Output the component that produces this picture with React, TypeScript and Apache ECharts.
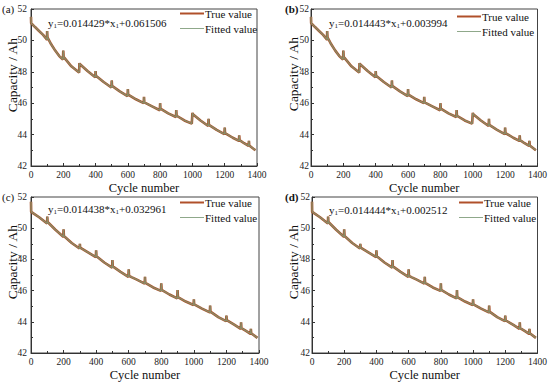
import React, { useEffect, useRef } from "react";
import * as echarts from "echarts";

// Panels (a),(b): cycle numbers and capacities
const cyclesAB = [0, 1, 25, 50, 75, 99, 100, 102, 125, 150, 175, 198, 200, 202, 250, 298, 300, 302, 350, 398, 400, 402, 450, 498, 500, 502, 550, 598, 600, 602, 650, 698, 700, 702, 750, 798, 800, 802, 850, 898, 900, 902, 950, 996, 1000, 1003, 1050, 1098, 1100, 1102, 1150, 1198, 1200, 1202, 1250, 1288, 1290, 1292, 1320, 1348, 1350, 1352, 1390];
const capAB = [51.5, 51.1, 50.85, 50.6, 50.35, 50.05, 50.6, 50.2, 49.75, 49.35, 49.0, 48.78, 49.35, 48.95, 48.35, 47.95, 48.55, 48.5, 48.05, 47.65, 48.05, 47.75, 47.35, 47.0, 47.45, 47.1, 46.75, 46.45, 46.9, 46.55, 46.25, 46.0, 46.4, 46.05, 45.8, 45.55, 46.0, 45.65, 45.35, 45.12, 45.57, 45.2, 44.9, 44.7, 45.38, 45.3, 44.9, 44.55, 45.0, 44.62, 44.3, 44.03, 44.45, 44.1, 43.8, 43.6, 43.95, 43.65, 43.45, 43.28, 43.6, 43.3, 43.0];

// Panels (c),(d)
const cyclesCD = [0, 1, 50, 99, 100, 102, 150, 198, 200, 202, 250, 298, 300, 302, 350, 398, 400, 402, 450, 498, 500, 502, 550, 598, 600, 602, 620, 650, 698, 700, 702, 750, 798, 800, 802, 850, 898, 900, 902, 950, 998, 1000, 1002, 1050, 1098, 1100, 1102, 1150, 1198, 1200, 1202, 1250, 1288, 1290, 1292, 1320, 1348, 1350, 1352, 1390];
const capCD = [51.7, 51.05, 50.7, 50.3, 50.75, 50.4, 49.9, 49.45, 49.93, 49.5, 49.05, 48.7, 49.0, 48.75, 48.45, 48.15, 48.58, 48.2, 47.8, 47.47, 47.96, 47.55, 47.2, 46.88, 47.37, 46.95, 46.85, 46.7, 46.45, 46.88, 46.5, 46.2, 45.98, 46.47, 46.05, 45.75, 45.5, 46.03, 45.58, 45.3, 45.08, 45.44, 45.12, 44.85, 44.6, 45.04, 44.65, 44.3, 44.04, 44.4, 44.1, 43.8, 43.55, 43.97, 43.6, 43.42, 43.23, 43.55, 43.27, 42.97];

const panelLabels = ["(a)", "(b)", "(c)", "(d)"];
const equations = [
  ["0.014429", "0.061506"],
  ["0.014443", "0.003994"],
  ["0.014438", "0.032961"],
  ["0.014444", "0.002512"],
];
const seriesNames = ["True value", "Fitted value"];
const xTitle = "Cycle number";
const yTitle = "Capacity / Ah";

const FONT = "'Liberation Serif', 'Times New Roman', serif";
const TRUE_COLOR = "#a8552e";
const FIT_COLOR = "#8a8c68";

export default function App() {
  const ref = useRef<HTMLDivElement>(null);
  useEffect(() => {
    if (!ref.current) return;
    const chart = echarts.init(ref.current, undefined, { renderer: "svg" });
    const grids = [
      { left: 31, top: 9, width: 226, height: 157 },
      { left: 311, top: 9, width: 227, height: 157 },
      { left: 31, top: 197, width: 228, height: 156 },
      { left: 312, top: 197, width: 226, height: 156 },
    ];
    const yLabelMargin = [4, 2, 4, 2];
    const pairs = (xs: number[], ys: number[]) => xs.map((x, i) => [x, ys[i]]);
    const dataAB = pairs(cyclesAB, capAB);
    const dataCD = pairs(cyclesCD, capCD);
    const datasets = [dataAB, dataAB, dataCD, dataCD];
    const axisCommon = {
      axisLine: { lineStyle: { color: "#333", width: 1 } },
      axisTick: { inside: true, length: 3, lineStyle: { color: "#333" } },
      minorTick: { show: true, splitNumber: 2, length: 2, lineStyle: { color: "#333" } },
      splitLine: { show: false },
    };
    const legendPos = [
      { left: 180, top: 8 },
      { left: 457, top: 11 },
      { left: 180, top: 197 },
      { left: 459, top: 197 },
    ];
    const eqPos = [
      [48, 23],
      [329, 23],
      [48, 209],
      [329, 210],
    ];
    const labelPos = [
      [2, 9, "normal"],
      [285, 9, "bold"],
      [2, 197, "normal"],
      [285, 197, "bold"],
    ];
    const yTitlePos = [
      [12, 75],
      [293, 74],
      [12, 262],
      [293, 262],
    ];
    const option: any = {
      animation: false,
      backgroundColor: "#fff",
      grid: grids.map((g) => ({ ...g, show: true, borderColor: "#444", borderWidth: 1, backgroundColor: "transparent" })),
      xAxis: grids.map((_, i) => ({
        gridIndex: i,
        type: "value",
        min: 0,
        max: 1400,
        interval: 200,
        ...axisCommon,
        axisLabel: { fontSize: 9.5, fontFamily: FONT, color: "#222", margin: 4, formatter: (v: number) => String(v) },
        name: xTitle,
        nameLocation: "middle",
        nameGap: 15,
        nameTextStyle: { fontSize: 12.5, fontFamily: FONT, color: "#111", verticalAlign: "top" },
      })),
      yAxis: grids.map((_, i) => ({
        gridIndex: i,
        type: "value",
        min: 42,
        max: 52,
        interval: 2,
        ...axisCommon,
        axisLabel: { fontSize: 9.5, fontFamily: FONT, color: "#222", margin: yLabelMargin[i] },
      })),
      legend: legendPos.map((p) => ({
        ...p,
        orient: "vertical",
        padding: 0,
        itemWidth: 24,
        itemHeight: 10,
        itemGap: 4,
        symbolKeepAspect: true,
        textStyle: { fontSize: 11, fontFamily: FONT, color: "#111", padding: [0, 0, 0, -4] },
        data: [
          { name: seriesNames[0], icon: "path://M0,0H24V2H0Z", itemStyle: { color: "#b0502a", borderWidth: 0 } },
          { name: seriesNames[1], icon: "path://M0,0H24V1H0Z", itemStyle: { color: "#8fa88a", borderWidth: 0 } },
        ],
      })),
      series: datasets.flatMap((d, i) => [
        {
          name: seriesNames[0],
          type: "line",
          xAxisIndex: i,
          yAxisIndex: i,
          data: d,
          symbol: "none",
          lineStyle: { color: TRUE_COLOR, width: 2.6 },
          itemStyle: { color: TRUE_COLOR },
        },
        {
          name: seriesNames[1],
          type: "line",
          xAxisIndex: i,
          yAxisIndex: i,
          data: d,
          symbol: "none",
          lineStyle: { color: FIT_COLOR, width: 1.3 },
          itemStyle: { color: FIT_COLOR },
        },
      ]),
      graphic: [
        ...equations.map((e, i) => ({
          type: "text",
          x: eqPos[i][0],
          y: eqPos[i][1],
          style: {
            text: `y{s|1}=${e[0]}*x{s|1}+${e[1]}`,
            font: `11px ${FONT}`,
            fill: "#111",
            verticalAlign: "middle",
            rich: {
              s: { fontSize: 7, fontFamily: FONT, fill: "#111", padding: [6, 0, 0, 0] },
            },
          },
        })),
        ...labelPos.map((p, i) => ({
          type: "text",
          x: p[0] as number,
          y: p[1] as number,
          style: {
            text: panelLabels[i],
            font: `${p[2]} 11px ${FONT}`,
            fill: "#111",
            verticalAlign: "middle",
          },
        })),
        ...yTitlePos.map((p) => ({
          type: "text",
          x: p[0],
          y: p[1],
          rotation: Math.PI / 2,
          style: {
            text: yTitle,
            font: `13.5px ${FONT}`,
            fill: "#111",
            align: "center",
            verticalAlign: "middle",
          },
        })),
      ],
    };
    chart.setOption(option);
    return () => chart.dispose();
  }, []);
  return <div ref={ref} style={{ position: "absolute", left: 0, top: 0, width: 550, height: 384 }} />;
}
